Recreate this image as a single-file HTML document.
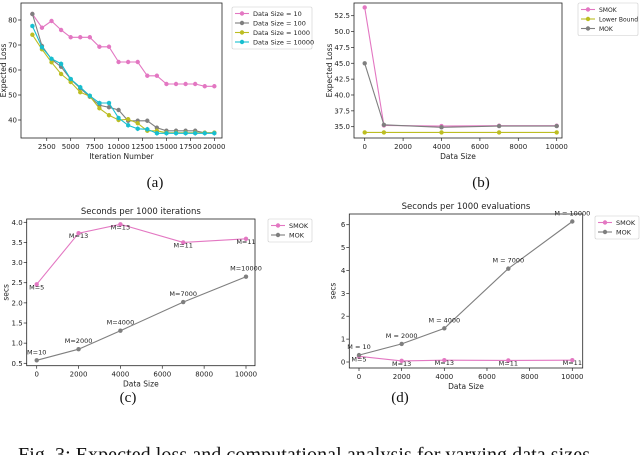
<!DOCTYPE html>
<html><head><meta charset="utf-8"><style>
html,body{margin:0;padding:0;background:#fff;width:640px;height:455px;overflow:hidden}
svg{display:block}
text{font-family:"DejaVu Sans","Liberation Sans",sans-serif;fill:#222}
.cap{font-family:"Liberation Serif",serif;font-size:15px;fill:#111}
</style></head><body>
<svg id="fig" width="640" height="455" viewBox="0 0 640 455"></svg>
<script>
// ---- data ----
const iterA = [1000,2000,3000,4000,5000,6000,7000,8000,9000,10000,11000,12000,13000,14000,15000,16000,17000,18000,19000,20000];
const aDS10 = [82.4,76.9,79.6,76,73.1,73.1,73.1,69.3,69.3,63.2,63.2,63.2,57.7,57.7,54.4,54.4,54.4,54.4,53.5,53.5];
const aDS100 = [82.4,69.6,64.3,61.3,56.3,52.7,49.3,45.9,45.1,44,39.7,39.7,39.7,36.9,35.7,35.7,35.7,35.7,34.9,34.9];
const aDS1000 = [74.1,68.3,63.1,58.4,55.2,51.1,49.5,44.7,41.9,40,40.3,38.7,35.7,35.7,34.9,34.9,34.9,34.9,34.9,34.9];
const aDS10000 = [77.6,69.1,64.5,62.5,56.4,53.1,49.7,46.8,46.8,40.8,37.9,36.5,36.3,34.7,34.7,34.7,34.7,34.7,34.7,34.7];
const aXTicks = [2500,5000,7500,10000,12500,15000,17500,20000];
const aYTicks = [40,50,60,70,80];

const sizesB = [0,1000,4000,7000,10000];
const bSMOK = [53.8,35.2,35.1,35.15,35.15];
const bLower = [34.1,34.1,34.1,34.1,34.1];
const bMOK = [45.0,35.3,34.9,35.1,35.1];
const bXTicks = [0,2000,4000,6000,8000,10000];
const bYTicks = [35.0,37.5,40.0,42.5,45.0,47.5,50.0,52.5];

const sizesC = [0,2000,4000,7000,10000];
const cSMOK = [2.46,3.73,3.95,3.50,3.59];
const cMOK = [0.575,0.85,1.31,2.02,2.65];
const cSMOKLabels = ["M=5","M=13","M=13","M=11","M=11"];
const cMOKLabels = ["M=10","M=2000","M=4000","M=7000","M=10000"];
const cXTicks = [0,2000,4000,6000,8000,10000];
const cYTicks = [0.5,1.0,1.5,2.0,2.5,3.0,3.5,4.0];

const dSMOK = [0.25,0.05,0.08,0.07,0.08];
const dMOK = [0.3,0.79,1.47,4.08,6.14];
const dSMOKLabels = ["M=5","M=13","M=13","M=11","M=11"];
const dMOKLabels = ["M = 10","M = 2000","M = 4000","M = 7000","M = 10000"];
const dXTicks = [0,2000,4000,6000,8000,10000];
const dYTicks = [0,1,2,3,4,5,6];

const PINK="#e377c2",GRAY="#7f7f7f",OLIVE="#bcbd22",CYAN="#17becf";
const svg=document.getElementById('fig');
const NS="http://www.w3.org/2000/svg";
function mk(tag,attrs,parent){const e=document.createElementNS(NS,tag);for(const k in attrs)e.setAttribute(k,attrs[k]);(parent||svg).appendChild(e);return e;}
function txt(s,x,y,size,anchor,parent,rot){const t=mk('text',{x:x,y:y,'font-size':size,'text-anchor':anchor||'middle'},parent);if(rot)t.setAttribute('transform','rotate(-90 '+x+' '+y+')');t.textContent=s;return t;}

function panel(name,box,xd,yd,xt,yt,xfmt,yfmt,xlabel,ylabel,title){
  const g=mk('g',{});
  
  
  const sx=v=>xd.p0+(v-xd.v0)*(xd.p1-xd.p0)/(xd.v1-xd.v0);
  const sy=v=>yd.p0+(v-yd.v0)*(yd.p1-yd.p0)/(yd.v1-yd.v0);
  const fr=mk('rect',{x:box.l,y:box.t,width:box.r-box.l,height:box.b-box.t,fill:'none',stroke:'#222','stroke-width':0.8},g);
  
  
  xt.forEach(v=>{const x=sx(v);mk('line',{x1:x,x2:x,y1:box.b,y2:box.b+3,stroke:'#222','stroke-width':0.7},g);
    const t=txt(xfmt(v),x,box.b+11,7,'middle',g);});
  yt.forEach(v=>{const y=sy(v);mk('line',{x1:box.l-3,x2:box.l,y1:y,y2:y,stroke:'#222','stroke-width':0.7},g);
    const t=txt(yfmt(v),box.l-4,y+2.5,7,'end',g);});
  const xl=txt(xlabel,(box.l+box.r)/2,box.b+21,7.5,'middle',g);
  
  const yl=txt(ylabel,box.l-(box.yo||17),(box.t+box.b)/2,7.5,'middle',g,true);
  
  if(title){const tt=txt(title,(box.l+box.r)/2,box.t-5,8.5,'middle',g);}
  return {g,sx,sy};
}
function series(P,name,xs,ys,color,marker,r,labels,lo){
  const pts=xs.map((x,i)=>P.sx(x).toFixed(1)+','+P.sy(ys[i]).toFixed(1)).join(' ');
  const pl=mk('polyline',{points:pts,fill:'none',stroke:color,'stroke-width':1.1},P.g);
  
  
  xs.forEach((x,i)=>{
    let m;
    if(marker==='h'){const cx=P.sx(x),cy=P.sy(ys[i]);let p=[];for(let k=0;k<6;k++){const a=Math.PI/6+k*Math.PI/3;p.push((cx+r*Math.cos(a)).toFixed(1)+','+(cy+r*Math.sin(a)).toFixed(1));}m=mk('polygon',{points:p.join(' '),fill:color},P.g);}
    else m=mk('circle',{cx:P.sx(x),cy:P.sy(ys[i]),r:r,fill:color},P.g);
    
    
    if(labels){const t=txt(labels[i],P.sx(x)+(lo.dx||0),P.sy(ys[i])+lo.dy,6.5,'middle',P.g);}
  });
}
function legend(name,x,y,w,entries,fs){
  const g=mk('g',{});
  
  
  mk('rect',{x:x,y:y,width:w,height:entries.length*9.5+4,fill:'#fff',stroke:'#ccc','stroke-width':0.6,rx:1.5},g);
  entries.forEach((e,i)=>{const yy=y+6.5+i*9.5;
    const it=mk('g',{},g);
    
    
    mk('line',{x1:x+3,x2:x+17,y1:yy,y2:yy,stroke:e[1],'stroke-width':1.1},it);
    mk('circle',{cx:x+10,cy:yy,r:2.2,fill:e[1]},it);
    txt(e[0],x+21,yy+2.4,fs||6.5,'start',it);});
}
const intf=v=>String(v);

// (a)
const A=panel('panel-a-expected-loss',{l:21,r:222,t:3,b:138,yo:15},{v0:0,v1:17500,p0:22.8,p1:190.4},{v0:40,v1:80,p0:120,p1:20},aXTicks,aYTicks,intf,intf,'Iteration Number','Expected Loss');
series(A,'data-size-10',iterA,aDS10,PINK,'o',2.2);
series(A,'data-size-100',iterA,aDS100,GRAY,'o',2.2);
series(A,'data-size-1000',iterA,aDS1000,OLIVE,'o',2.2);
series(A,'data-size-10000',iterA,aDS10000,CYAN,'h',2.4);
legend('legend-a',232,7,80,[['Data Size = 10',PINK],['Data Size = 100',GRAY],['Data Size = 1000',OLIVE],['Data Size = 10000',CYAN]]);

// (b)
const B=panel('panel-b-expected-loss-vs-size',{l:354,r:562,t:3,b:138,yo:22},{v0:0,v1:10000,p0:364.7,p1:556.7},{v0:35,v1:52.5,p0:126.7,p1:15.7},bXTicks,bYTicks,intf,v=>v.toFixed(1),'Data Size','Expected Loss');
series(B,'smok',sizesB,bSMOK,PINK,'o',2.2);
series(B,'lower-bound',sizesB,bLower,OLIVE,'o',2.2);
series(B,'mok',sizesB,bMOK,GRAY,'o',2.2);
legend('legend-b',578,3,60,[['SMOK',PINK],['Lower Bound',OLIVE],['MOK',GRAY]],6);

// (c)
const C=panel('panel-c-seconds-per-iterations',{l:26.7,r:255,t:219,b:365.7,yo:18},{v0:0,v1:10000,p0:36.7,p1:246},{v0:0.5,v1:4.0,p0:363.3,p1:222.3},cXTicks,cYTicks,intf,v=>v.toFixed(1),'Data Size','secs','Seconds per 1000 iterations');
series(C,'smok',sizesC,cSMOK,PINK,'o',2.2,cSMOKLabels,{dy:5});
series(C,'mok',sizesC,cMOK,GRAY,'o',2.2,cMOKLabels,{dy:-6});
legend('legend-c',268,219,44,[['SMOK',PINK],['MOK',GRAY]]);

// (d)
const D=panel('panel-d-seconds-per-evaluations',{l:349.3,r:582.7,t:214,b:368,yo:14},{v0:0,v1:10000,p0:359,p1:572.3},{v0:0,v1:6,p0:362,p1:224.7},dXTicks,dYTicks,intf,intf,'Data Size','secs','Seconds per 1000 evaluations');
series(D,'smok',sizesC,dSMOK,PINK,'o',2.2,dSMOKLabels,{dy:5});
series(D,'mok',sizesC,dMOK,GRAY,'o',2.2,dMOKLabels,{dy:-6});
legend('legend-d',595,216,44,[['SMOK',PINK],['MOK',GRAY]]);

// captions
[['(a)',155,187],['(b)',481,187],['(c)',128,402],['(d)',400,402]].forEach(c=>{
  const t=txt(c[0],c[1],c[2],15,'middle');t.setAttribute('class','cap');
  
  });
const fc=txt('Fig. 3: Expected loss and computational analysis for varying data sizes',18,461,20,'start');
fc.setAttribute('class','cap');
fc.setAttribute('style','font-size:20px');
fc.setAttribute('textLength','572');


</script>
</body></html>
